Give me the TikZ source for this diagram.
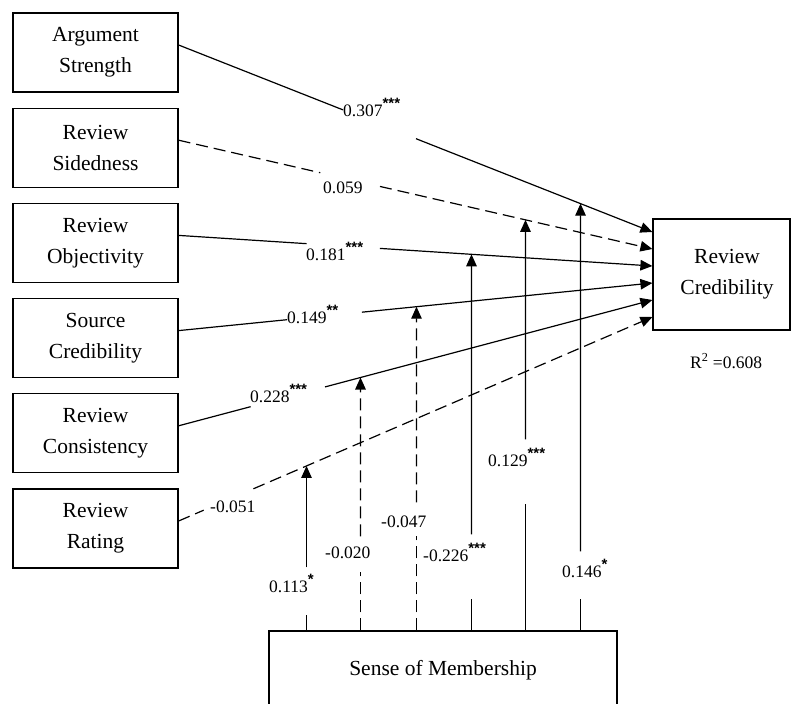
\documentclass[tikz,border=0pt]{standalone}
\usepackage{fontspec}
\setmainfont{Liberation Serif}
\newfontfamily\starfont{Liberation Sans}
\usetikzlibrary{arrows.meta,calc}
\newcommand{\sg}[1]{\raisebox{8pt}{\fontsize{15}{15}\selectfont\starfont\bfseries #1}}
\begin{document}
\begin{tikzpicture}[x=1pt,y=-1pt,
  box/.style={draw,line width=1.2pt,align=center,font=\fontsize{21.5}{31}\selectfont,inner sep=0pt},
  lbox/.style={box,minimum width=165pt,minimum height=79pt},
  txt/.style={align=center,font=\fontsize{21.5}{31}\selectfont,inner sep=0pt},
  lbl/.style={font=\fontsize{17.5}{17.5}\selectfont,inner sep=0pt,anchor=base west},
  conn/.style={line width=1.2pt},
  arr/.style={conn,-{Triangle[length=12pt,width=10.5pt]}},
  dsh/.style={dash pattern=on 12pt off 6pt}]
\clip (0,0) rectangle (791,703);
% boxes
\node[lbox] (as) at (95.5,52.5) {Argument\\Strength};
\node[lbox] (rs) at (95.5,147.7) {Review\\Sidedness};
\node[lbox] (ro) at (95.5,242.9) {Review\\Objectivity};
\node[lbox] (sc) at (95.5,338.1) {Source\\Credibility};
\node[lbox] (rcn) at (95.5,433.3) {Review\\Consistency};
\node[lbox] (rr) at (95.5,528.5) {Review\\Rating};
\node[box,minimum width=137pt,minimum height=111pt] (rc) at (721.5,274.5) {};
\node[txt] (rct) at (727,274.5) {Review\\Credibility};
\node[box,minimum width=348pt,minimum height=78pt] (som) at (443,670) {Sense of Membership};
\node[lbl] (r2) at (690,368) {R\textsuperscript{2} =0.608};
% line ends
\coordinate (s1) at ([yshift=7.5pt]as.east);
\coordinate (s2) at ([yshift=7.5pt]rs.east);
\coordinate (s3) at ([yshift=7.5pt]ro.east);
\coordinate (s4) at ([yshift=7.5pt]sc.east);
\coordinate (s5) at ([yshift=7.5pt]rcn.east);
\coordinate (s6) at ([yshift=7.5pt]rr.east);
\coordinate (e1) at ([yshift=42.5pt]rc.west);
\coordinate (e2) at ([yshift=25.5pt]rc.west);
\coordinate (e3) at ([yshift=8.5pt]rc.west);
\coordinate (e4) at ([yshift=-8.5pt]rc.west);
\coordinate (e5) at ([yshift=-25.5pt]rc.west);
\coordinate (e6) at ([yshift=-42.5pt]rc.west);
% path labels
\node[lbl] (l1) at (343,117) {0.307\sg{***}};
\node[lbl] (l2) at (323,194) {0.059};
\node[lbl] (l3) at (306,260) {0.181\sg{***}};
\node[lbl] (l4) at (287,323) {0.149\sg{**}};
\node[lbl] (l5) at (250,402) {0.228\sg{***}};
\node[lbl] (l6) at (210,512) {-0.051};
\node[lbl] (m1) at (269,592) {0.113\sg{*}};
\node[lbl] (m2) at (325,558) {-0.020};
\node[lbl] (m3) at (381,527) {-0.047};
\node[lbl] (m4) at (423,561) {-0.226\sg{***}};
\node[lbl] (m5) at (488,466) {0.129\sg{***}};
\node[lbl] (m6) at (562,577) {0.146\sg{*}};
% direct paths
\draw[conn] (s1) -- ($(s1)!0.347!(e1)$);
\draw[arr] ($(s1)!0.501!(e1)$) -- (e1);
\draw[conn,dsh] (s2) -- ($(s2)!0.299!(e2)$);
\draw[arr,dsh] ($(s2)!0.425!(e2)$) -- (e2);
\draw[conn] (s3) -- ($(s3)!0.27!(e3)$);
\draw[arr] ($(s3)!0.425!(e3)$) -- (e3);
\draw[conn] (s4) -- ($(s4)!0.229!(e4)$);
\draw[arr] ($(s4)!0.387!(e4)$) -- (e4);
\draw[conn] (s5) -- ($(s5)!0.152!(e5)$);
\draw[arr] ($(s5)!0.309!(e5)$) -- (e5);
\draw[conn,dsh] (s6) -- ($(s6)!0.053!(e6)$);
\draw[arr,dsh] ($(s6)!0.158!(e6)$) -- (e6);
% moderating feet and tips
\path (som.north) ++(-136.5,0) coordinate (f1) ++(0,-500) coordinate (g1);
\path (som.north) ++(-82.5,0) coordinate (f2) ++(0,-500) coordinate (g2);
\path (som.north) ++(-26.5,0) coordinate (f3) ++(0,-500) coordinate (g3);
\path (som.north) ++(28.5,0) coordinate (f4) ++(0,-500) coordinate (g4);
\path (som.north) ++(82.5,0) coordinate (f5) ++(0,-500) coordinate (g5);
\path (som.north) ++(137.5,0) coordinate (f6) ++(0,-500) coordinate (g6);
\coordinate (t1) at (intersection of f1--g1 and s6--e6);
\coordinate (t2) at (intersection of f2--g2 and s5--e5);
\coordinate (t3) at (intersection of f3--g3 and s4--e4);
\coordinate (t4) at (intersection of f4--g4 and s3--e3);
\coordinate (t5) at (intersection of f5--g5 and s2--e2);
\coordinate (t6) at (intersection of f6--g6 and s1--e1);
% moderating paths
\draw[conn] (f1) -- ++(0,-15);
\draw[arr] ($(f1)+(0,-63)$) -- (t1);
\draw[conn,dsh] (f2) -- ++(0,-58);
\draw[arr,dsh] ($(f2)+(0,-94)$) -- (t2);
\draw[conn,dsh] (f3) -- ++(0,-94);
\draw[arr,dsh] ($(f3)+(0,-128)$) -- (t3);
\draw[conn] (f4) -- ++(0,-31);
\draw[arr] ($(f4)+(0,-96)$) -- (t4);
\draw[conn] (f5) -- ++(0,-126);
\draw[arr] ($(f5)+(0,-191)$) -- (t5);
\draw[conn] (f6) -- ++(0,-31);
\draw[arr] ($(f6)+(0,-79)$) -- (t6);
\end{tikzpicture}
\end{document}
